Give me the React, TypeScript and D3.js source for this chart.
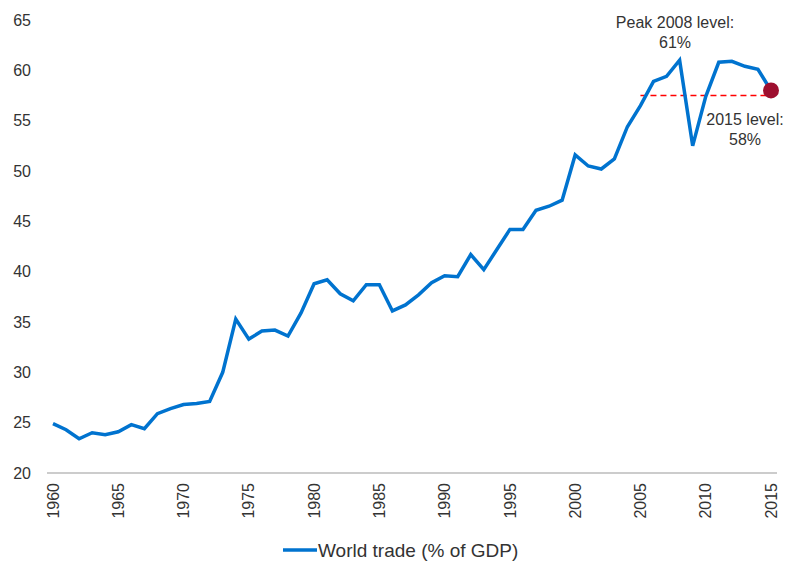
import React, { useEffect, useRef } from "react";
import * as d3 from "d3";

const years: number[] = d3.range(1960, 2016);
const tradeValues: number[] = [
  24.9, 24.3, 23.4, 24.0, 23.8, 24.1, 24.8, 24.4, 25.9, 26.4,
  26.8, 26.9, 27.1, 30.0, 35.3, 33.3, 34.1, 34.2, 33.6, 35.9,
  38.8, 39.2, 37.8, 37.1, 38.7, 38.7, 36.1, 36.7, 37.7, 38.9,
  39.6, 39.5, 41.7, 40.2, 42.2, 44.2, 44.2, 46.1, 46.5, 47.1,
  51.6, 50.5, 50.2, 51.2, 54.4, 56.5, 58.9, 59.4, 61.0, 52.5,
  57.4, 60.8, 60.9, 60.4, 60.1, 58.0,
];
const yTicks: number[] = [20, 25, 30, 35, 40, 45, 50, 55, 60, 65];
const xTicks: number[] = [1960, 1965, 1970, 1975, 1980, 1985, 1990, 1995, 2000, 2005, 2010, 2015];
const seriesName = "World trade (% of GDP)";
const peakLabel = ["Peak 2008 level:", "61%"];
const endLabel = ["2015 level:", "58%"];
const refLineStartYear = 2005;
const refLineValue = 57.5;

export default function App() {
  const ref = useRef<SVGSVGElement>(null);
  useEffect(() => {
    const svg = d3.select(ref.current);
    svg.selectAll("*").remove();
    const font = "'Liberation Sans', Arial, Helvetica, sans-serif";
    const textColor = "#333";
    const x = d3.scaleLinear().domain([1960, 2015]).range([53, 771]);
    const y = d3.scaleLinear().domain([20, 65]).range([473, 20]);

    // y tick labels
    svg.append("g").selectAll("text").data(yTicks).join("text")
      .attr("x", 31).attr("y", (d) => y(d)).attr("dy", "0.35em")
      .attr("text-anchor", "end").attr("font-family", font).attr("font-size", 16)
      .attr("fill", textColor).text((d) => String(d));

    // x axis line
    svg.append("line").attr("x1", 47).attr("x2", 777).attr("y1", y(20)).attr("y2", y(20))
      .attr("stroke", "#999").attr("stroke-width", 1.2);

    // x tick labels rotated
    svg.append("g").selectAll("text").data(xTicks).join("text")
      .attr("transform", (d) => `translate(${x(d)},483) rotate(-90)`)
      .attr("dy", "0.35em").attr("text-anchor", "end")
      .attr("font-family", font).attr("font-size", 16).attr("fill", textColor)
      .text((d) => String(d));

    // reference dashed line
    svg.append("line")
      .attr("x1", x(refLineStartYear)).attr("x2", x(2015))
      .attr("y1", y(refLineValue)).attr("y2", y(refLineValue))
      .attr("stroke", "#ff0000").attr("stroke-width", 1.3).attr("stroke-dasharray", "6,4");

    const line = d3.line<number>().x((_, i) => x(years[i])).y((d) => y(d));
    svg.append("path").datum(tradeValues).attr("d", line)
      .attr("fill", "none").attr("stroke", "#0073cf").attr("stroke-width", 3.5)
      .attr("stroke-linejoin", "miter").attr("stroke-linecap", "butt");

    // end dot
    const last = tradeValues.length - 1;
    svg.append("circle").attr("cx", x(years[last])).attr("cy", y(tradeValues[last]))
      .attr("r", 8).attr("fill", "#9e0f2f");

    // annotations
    const ann = svg.append("g").attr("font-family", font).attr("font-size", 16)
      .attr("fill", textColor).attr("text-anchor", "middle");
    ann.append("text").attr("x", 675).attr("y", 28).text(peakLabel[0]);
    ann.append("text").attr("x", 675).attr("y", 48).text(peakLabel[1]);
    ann.append("text").attr("x", 745).attr("y", 125).text(endLabel[0]);
    ann.append("text").attr("x", 745).attr("y", 145).text(endLabel[1]);

    // legend
    svg.append("line").attr("x1", 283).attr("x2", 317).attr("y1", 550).attr("y2", 550)
      .attr("stroke", "#0073cf").attr("stroke-width", 3.5);
    svg.append("text").attr("x", 318).attr("y", 550).attr("dy", "0.35em")
      .attr("font-family", font).attr("font-size", 19).attr("fill", textColor)
      .text(seriesName);
  }, []);
  return (
    <div style={{ position: "absolute", left: 0, top: 0 }}>
      <svg ref={ref} width={796} height={563} style={{ display: "block", background: "#fff" }} />
    </div>
  );
}
